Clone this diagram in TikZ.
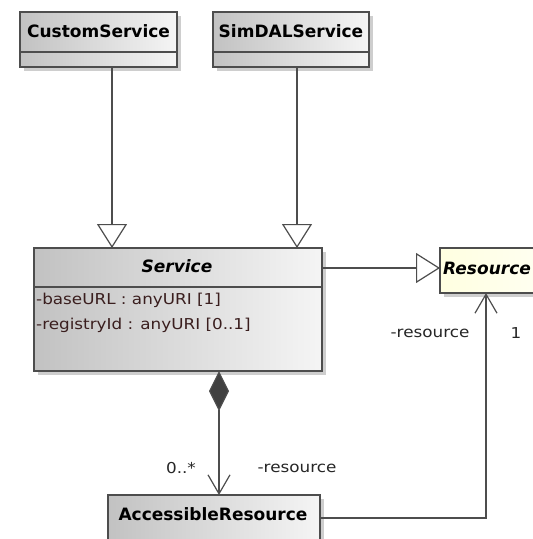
\documentclass[tikz,border=0pt]{standalone}
\usepackage{fontspec}
\setmainfont{DejaVu Sans}
\usetikzlibrary{arrows.meta,shadows}
\definecolor{edgec}{HTML}{4D4D4D}
\definecolor{attrc}{HTML}{3A1E1E}
\definecolor{diamc}{HTML}{404040}
\begin{document}
\begin{tikzpicture}[x=1pt,y=-1pt,
  box/.style={draw=edgec, line width=1.3pt, left color=black!24, right color=black!4,
    drop shadow={shadow xshift=4pt, shadow yshift=-4pt, fill=black!35, opacity=0.55},
    anchor=north west, inner sep=0pt, outer sep=0pt},
  ybox/.style={box, left color=yellow!12, right color=yellow!5},
  title/.style={font=\bfseries\fontsize{17}{20}\selectfont, inner sep=0pt},
  ititle/.style={font=\bfseries\itshape\fontsize{17}{20}\selectfont, inner sep=0pt},
  attr/.style={font=\fontsize{15}{17}\selectfont, text=attrc, inner sep=0pt, anchor=west},
  lbl/.style={font=\fontsize{15}{17}\selectfont, text=black!85, inner sep=0pt},
  sep/.style={draw=edgec, line width=1.3pt},
  conn/.style={draw=edgec, line width=1.2pt},
  gen/.style={conn, -{Triangle[length=24pt,width=30pt,fill=white]}},
  nav/.style={conn, -{Straight Barb[length=19pt,width=22pt]}}
]
\clip (0,0) rectangle (533,539);
\fill[white] (0,0) rectangle (533,539);

% boxes
\node[box, minimum width=157pt, minimum height=55pt] (cs) at (20,12) {};
\node[box, minimum width=156pt, minimum height=55pt] (sd) at (213,12) {};
\node[box, minimum width=288pt, minimum height=123pt] (svc) at (34,248) {};
\node[ybox, minimum width=110pt, minimum height=45pt] (res) at (440,248) {};
\node[box, minimum width=212pt, minimum height=62pt] (ar) at (108,495) {};

% compartments
\draw[sep] ([yshift=-40pt]cs.north west) -- ([yshift=-40pt]cs.north east);
\draw[sep] ([yshift=-40pt]sd.north west) -- ([yshift=-40pt]sd.north east);
\draw[sep] ([yshift=-39pt]svc.north west) -- ([yshift=-39pt]svc.north east);

% titles
\node[title] (cst) at (98.5,31) {CustomService};
\node[title] (sdt) at (291,31) {SimDALService};
\node[ititle] (svct) at (177,266) {Service};
\node[ititle, anchor=west] (rest) at (443,268) {Resource};
\node[title] (art) at (213,514) {AccessibleResource};

% attributes
\node[attr] (a1) at (36,300) {\scalebox{1.12}[1]{-baseURL : anyURI [1]}};
\node[attr] (a2) at (36,325) {\scalebox{1.12}[1]{-registryId : anyURI [0..1]}};

% connectors
\draw[gen] ([xshift=92pt]cs.south west) -- ([xshift=78pt]svc.north west);
\draw[gen] ([xshift=84pt]sd.south west) -- ([xshift=263pt]svc.north west);
\draw[gen] ([yshift=-20pt]svc.north east) -- ([yshift=-20pt]res.north west);
\draw[conn, {Diamond[length=40pt,width=20pt,fill=diamc]}-{Straight Barb[length=19pt,width=22pt]}]
  ([xshift=185pt]svc.south west) -- ([xshift=111pt]ar.north west);
\draw[nav] ([yshift=-23pt]ar.north east) -| ([xshift=46pt]res.south west);

% labels
\node[lbl] (l1) at (430,333) {\scalebox{1.12}[1]{-resource}};
\node[lbl] (l2) at (516,333) {\scalebox{1.12}[1]{1}};
\node[lbl] (l3) at (181,468) {\scalebox{1.12}[1]{0..*}};
\node[lbl] (l4) at (297,468) {\scalebox{1.12}[1]{-resource}};
\end{tikzpicture}
\end{document}
